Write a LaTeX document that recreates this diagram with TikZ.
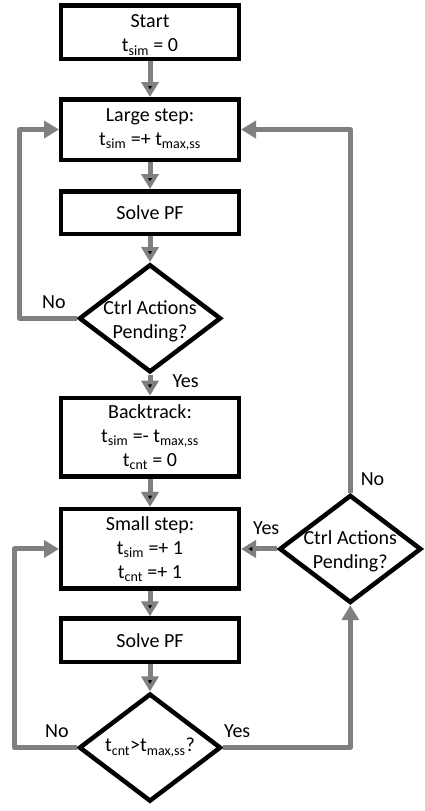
\documentclass[tikz,border=0pt]{standalone}
\usepackage{fontspec}
\setmainfont{Carlito}
\usetikzlibrary{matrix,positioning,arrows.meta,shapes.geometric}
\definecolor{flowgray}{RGB}{128,128,128}
\newcommand{\ts}[1]{t\textsubscript{#1}}
\newcommand{\flowfont}{\fontsize{20}{24}\selectfont}

\begin{document}
\begin{tikzpicture}[
  every node/.style={font=\flowfont},
  block/.style={draw, line width=4.5pt, minimum width=177.5pt, align=center, inner sep=2pt},
  lowtext/.style={text height=43pt},
  decision/.style={draw, diamond, line width=4.5pt, aspect=1.3, minimum width=142pt, minimum height=108pt, inner sep=-5pt, align=center},
  flow/.style={draw=flowgray, line width=5pt, line join=round, -{Triangle[width=17pt,length=15pt]}},
  lbl/.style={inner sep=2pt}]
\useasboundingbox (0,0) rectangle (425pt,-811pt);
\matrix [row sep=27pt, column sep=37pt, matrix anchor=start.north] at (150pt,-3pt)
{ \node[block, lowtext, minimum height=53.5pt] (start) {Start\\\ts{sim} = 0}; \\[9pt]
  \node[block, minimum height=60.5pt] (large) {Large step:\\\ts{sim} =+ \ts{max,ss}}; \\
  \node[block, minimum height=42.5pt] (solve1) {Solve PF}; \\
  \node[decision, lowtext] (check1) {Ctrl Actions\\Pending?}; \\[-5pt]
  \node[block, minimum height=78.5pt] (back) {Backtrack:\\\ts{sim} =- \ts{max,ss}\\\ts{cnt} = 0}; \\[-12pt]
  \node[block, minimum height=79.5pt] (small) {Small step:\\\ts{sim} =+ 1\\\ts{cnt} =+ 1}; &
  \node[decision, lowtext] (check3) {Ctrl Actions\\Pending?}; \\[-15pt]
  \node[block, minimum height=43.5pt] (solve2) {Solve PF}; \\[1pt]
  \node[decision] (check2) {\ts{cnt}>\ts{max,ss}?}; \\
};
\path[flow]
(start) edge (large)
(large) edge (solve1)
(solve1) edge (check1)
(check1) edge node[lbl, right=18pt, pos=0.3] {Yes} (back)
(back) edge (small)
(small) edge (solve2)
(solve2) edge (check2)
(check3) edge node[lbl, above=10pt, pos=0.3] {Yes} (small);
% loops back to the step boxes
\draw[flow] (check1.west) -| node[lbl, above=5pt, pos=0.2] {No} ([xshift=-39.5pt]large.west) -- (large.west);
\draw[flow] (check2.west) -| node[lbl, above=5pt, pos=0.16] {No} ([xshift=-44.5pt]small.west) -- (small.west);
\draw[flow] (check2.east) -| node[lbl, above=5pt, pos=0.055] {Yes} (check3.south);
\draw[flow] (check3.north) |- node[lbl, pos=0, anchor=south west, xshift=6pt, yshift=3pt] {No} (large.east);
\end{tikzpicture}
\end{document}
